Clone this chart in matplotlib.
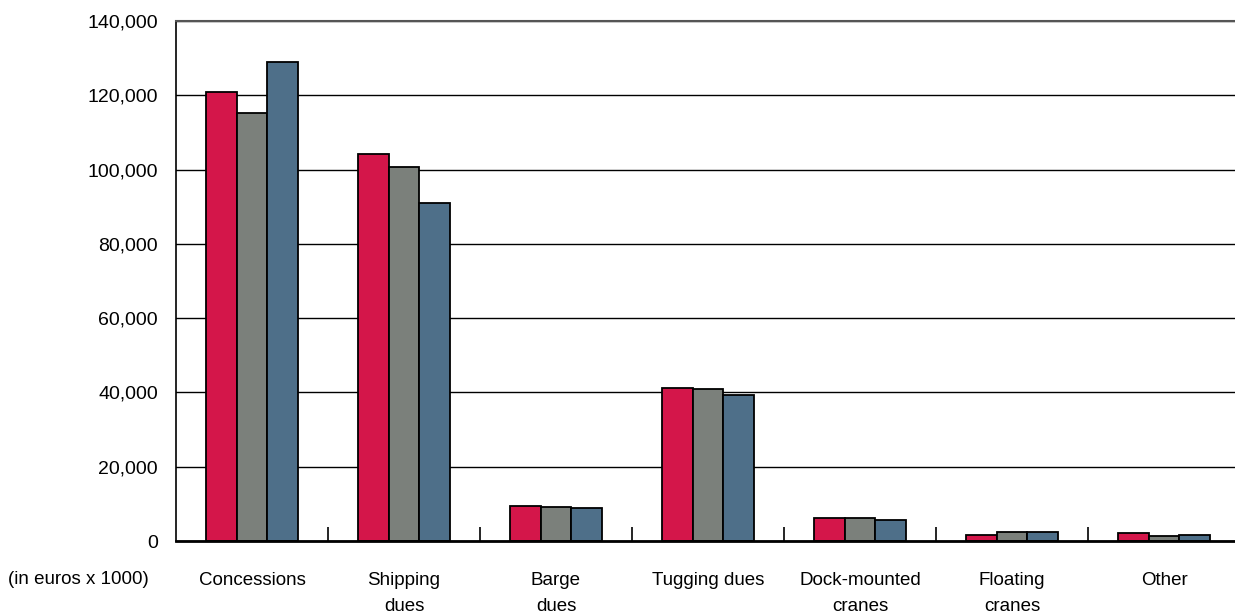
import numpy as np
import matplotlib.pyplot as plt
from matplotlib.ticker import FuncFormatter

plt.rcParams['font.family'] = ['Liberation Sans', 'DejaVu Sans']

categories = ["Concessions", "Shipping\ndues", "Barge\ndues", "Tugging dues",
              "Dock-mounted\ncranes", "Floating\ncranes", "Other"]

# revenue per category, in euros x 1000
series_a = [120900, 104200, 9400, 41200, 6300, 1600, 2100]
series_b = [115200, 100700, 9200, 40900, 6200, 2300, 1400]
series_c = [129000, 91000, 9000, 39300, 5700, 2300, 1700]

colors = ["#D4164A", "#7B807B", "#4E6F89"]

fig = plt.figure(figsize=(12.35, 6.15), dpi=100)
ax = fig.add_axes([176 / 1235, 74 / 615, 1064 / 1235, 520 / 615])

x = np.arange(len(categories))
w = 0.2
for i, (vals, c) in enumerate(zip([series_a, series_b, series_c], colors)):
    ax.bar(x + (i - 1) * w, vals, width=w, color=c, edgecolor="black",
           linewidth=1.3, zorder=3)

ax.set_xlim(-0.5, len(categories) - 0.5)
ax.set_ylim(0, 140000)
ax.set_yticks(np.arange(0, 140001, 20000))
ax.yaxis.set_major_formatter(FuncFormatter(lambda v, p: f"{int(v):,}"))
ax.yaxis.grid(True, color="black", linewidth=1.0, zorder=0)
ax.tick_params(axis="y", length=0, pad=13, labelsize=14)

ax.set_xticks(x)
ax.set_xticklabels(categories, fontsize=13.5, linespacing=1.75)
ax.tick_params(axis="x", which="major", length=0, pad=22)
ax.set_xticks(x[:-1] + 0.5, minor=True)
ax.tick_params(axis="x", which="minor", direction="in", length=10,
               width=1.2, color="black")

ax.spines["right"].set_visible(False)
ax.spines["top"].set_color("#555555")
ax.spines["top"].set_linewidth(1.5)
ax.spines["left"].set_linewidth(1.2)
ax.spines["bottom"].set_linewidth(2.0)
ax.spines["bottom"].set_zorder(4)

fig.text(8 / 1235, 1 - 580 / 615, "(in euros x 1000)", fontsize=13.5,
         ha="left", va="center")

fig.savefig("out.png", dpi=100)
